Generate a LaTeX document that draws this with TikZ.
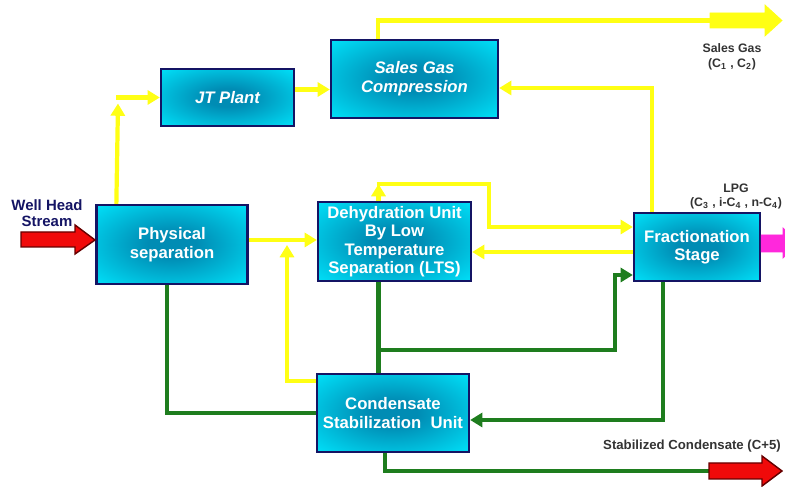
\documentclass[tikz,border=0pt]{standalone}
\usepackage{fontspec}
\setmainfont{Liberation Sans}
\usepackage{xcolor}
\usetikzlibrary{arrows.meta}

\definecolor{cyanc}{RGB}{0,232,255}
\definecolor{tealc}{RGB}{0,140,180}
\definecolor{navyc}{RGB}{20,20,100}
\definecolor{gasc}{RGB}{255,255,20}
\definecolor{liqc}{RGB}{30,125,30}
\definecolor{redc}{RGB}{240,10,10}
\definecolor{lpgc}{RGB}{255,40,220}
\pgfdeclareradialshading{boxglow}{\pgfpoint{0bp}{0bp}}{color(0bp)=(tealc); color(8bp)=(tealc); color(38bp)=(cyanc); color(50bp)=(cyanc)}

\begin{document}
\begin{tikzpicture}[>={Triangle[length=7pt,width=8pt]},
	unit/.style={draw=navyc,line width=1.3pt,shading=boxglow,text=white,align=center,font=\fontsize{9.5}{10.5}\selectfont\bfseries,inner sep=1pt},
	gas/.style={draw=gasc,line width=2.4pt},
	liq/.style={draw=liqc,line width=2.4pt},
	lab/.style={font=\fontsize{7}{8.5}\selectfont\bfseries,text=black!80,align=center,inner sep=0pt}]
	\clip (0,0) rectangle (15.7,-9.74); % page
	% units
	\node[unit,minimum width=3.02cm,minimum height=1.58cm] (phys) at (3.44,-4.89) {Physical\\separation};
	\node[unit,minimum width=2.66cm,minimum height=1.14cm,font=\fontsize{9.5}{11}\selectfont\bfseries\itshape] (jt) at (4.55,-1.95) {JT Plant};
	\node[unit,minimum width=3.34cm,minimum height=1.56cm,font=\fontsize{9.5}{11}\selectfont\bfseries\itshape] (sgc) at (8.29,-1.58) {Sales Gas\\Compression};
	\node[unit,minimum width=3.06cm,minimum height=1.58cm] (dehy) at (7.89,-4.83) {Dehydration Unit\\By Low\\Temperature\\Separation (LTS)};
	\node[unit,minimum width=2.52cm,minimum height=1.36cm] (frac) at (13.94,-4.94) {Fractionation\\Stage};
	\node[unit,minimum width=3.04cm,minimum height=1.56cm] (cond) at (7.86,-8.26) {Condensate\\Stabilization~ Unit};
	% labels
	\node[lab,font=\fontsize{8.5}{9}\selectfont\bfseries,text=navyc] (well) at (0.94,-4.27) {Well Head\\Stream};
	\node[lab] (salesgas) at (14.64,-1.14) {Sales Gas\\(C\textsubscript{1} , C\textsubscript{2})};
	\node[lab] (lpg) at (14.72,-3.93) {LPG\\(C\textsubscript{3} , i-C\textsubscript{4} , n-C\textsubscript{4})};
	\node[lab,font=\fontsize{7.5}{8.5}\selectfont\bfseries] (stabcond) at (13.84,-8.93) {Stabilized Condensate (C+5)};
	% free ends
	\coordinate (jtin) at (2.36,-1.95);
	\coordinate (gasout) at (14.2,-0.41);
	\coordinate (dtop) at (7.57,-3.68);
	\coordinate (branch) at (7.58,-7.0);
	\coordinate (condout) at (14.18,-9.42);
	% gas lines (yellow)
	\draw[gas,->] ([xshift=0.42cm]phys.north west) -- ([yshift=-0.12cm]jtin);
	\draw[gas,->] ([xshift=-0.04cm]jtin) -- (jt.west);
	\draw[gas,->] ([yshift=0.16cm]jt.east) -- ([yshift=0.16cm]jt.east -| sgc.west);
	\draw[gas] ([xshift=-0.73cm]sgc.north) |- (gasout);
	\draw[gas,->] ([xshift=-0.9cm]frac.north) |- ([yshift=-0.18cm]sgc.east);
	\draw[gas,->] ([yshift=0.09cm]phys.east) -- ([yshift=0.09cm]phys.east -| dehy.west);
	\draw[gas,->] (dehy.north -| dtop) -- (dtop);
	\draw[gas,->] ([xshift=-0.04cm]dtop) -- (9.78,-3.68) -- (9.78,-4.54) -- (frac.west |- 0,-4.54);
	\draw[gas,->] (frac.west |- 0,-5.04) -- (dehy.east |- 0,-5.04);
	\draw[gas,->] ([yshift=-0.16cm]cond.north west) -| (5.74,-4.9);
	% liquid lines (green)
	\draw[liq] ([xshift=-0.1cm]phys.south) |- (cond.west);
	\draw[liq] (dehy.south -| dtop) -- (cond.north -| dtop);
	\draw[liq,->] (branch) -- (12.3,-7.0) -- (12.3,-5.5) -- (frac.west |- 0,-5.5);
	\draw[liq,->] ([xshift=-0.68cm]frac.south) |- ([yshift=-0.14cm]cond.east);
	\draw[liq] ([xshift=-0.16cm]cond.south) |- (condout);
	% block arrows
	\draw[fill=redc,draw=red!40!black,thick] (0.42,-4.64) -- (1.5,-4.64) -- (1.5,-4.5) -- (1.9,-4.8) -- (1.5,-5.08) -- (1.5,-4.94) -- (0.42,-4.94) -- cycle;
	\draw[fill=gasc,draw=gasc] (gasout) ++(0,0.15) -- (15.3,-0.26) -- (15.3,-0.1) -- (15.64,-0.41) -- (15.3,-0.72) -- (15.3,-0.56) -- (14.2,-0.56) -- cycle;
	\draw[fill=redc,draw=red!40!black,thick] (condout) ++(0,0.16) -- (15.24,-9.26) -- (15.24,-9.12) -- (15.64,-9.42) -- (15.24,-9.72) -- (15.24,-9.58) -- (14.18,-9.58) -- cycle;
	\draw[fill=lpgc,draw=lpgc] (frac.east |- 0,-4.7) -- (15.66,-4.7) -- (15.66,-4.56) -- (16.0,-4.86) -- (15.66,-5.16) -- (15.66,-5.04) -- (frac.east |- 0,-5.04) -- cycle;
\end{tikzpicture}
\end{document}
